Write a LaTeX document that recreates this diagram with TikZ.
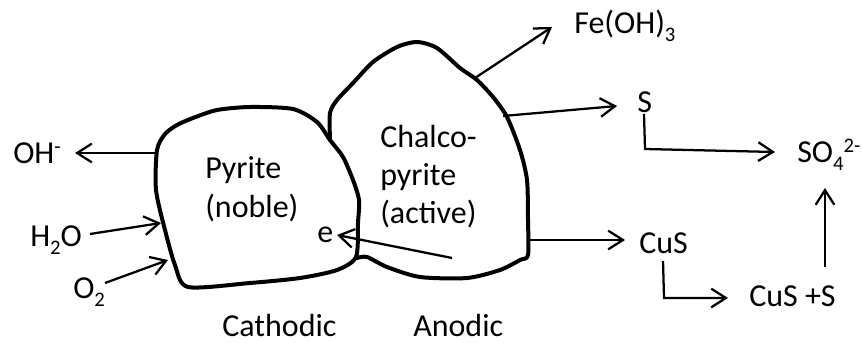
\documentclass[tikz,border=0pt]{standalone}
\usepackage{fontspec}
\setmainfont{Carlito}
\usetikzlibrary{arrows.meta}
\newcommand{\mysb}[1]{\raisebox{-6pt}{\fontsize{15.5}{15.5}\selectfont #1}}
\newcommand{\mysp}[1]{\raisebox{7pt}{\fontsize{15.5}{15.5}\selectfont #1}}
\begin{document}
\begin{tikzpicture}[x=0.75pt,y=-0.75pt,
  blob/.style={line width=3pt, line join=round, line cap=round},
  arr/.style={line width=1.7pt, -{Straight Barb[length=11pt,width=14pt,line width=1.7pt]}},
  lbl/.style={inner sep=0pt, anchor=base west, font=\fontsize{24}{28}\selectfont}]
\useasboundingbox (0,0) rectangle (862,342);
% pyrite
\draw[blob] plot[smooth cycle, tension=0.45] coordinates {
 (157,150) (165,134) (177,125) (193,118) (217,110) (250,107) (293,109)
 (317,122) (330,140) (343,157) (353,180) (359,200) (358,223) (356,257)
 (337,270) (300,278) (250,283) (188,287) (175,265) (165,230) (156,190)};
% chalcopyrite
\draw[blob] plot[smooth, tension=0.45] coordinates {
 (330,140) (330,113) (337,100) (353,83) (373,62) (397,47) (417,42)
 (437,48) (460,68) (477,80) (493,97) (507,117) (520,150) (527,180)
 (528,220) (528,255) (520,260) (500,270) (467,278) (420,277) (387,267)
 (367,257) (357,258)};
% labels
\node[lbl] (pyr1) at (205,178) {Pyrite};
\node[lbl] (pyr2) at (205,217) {(noble)};
\node[lbl] (cha1) at (380,147) {Chalco-};
\node[lbl] (cha2) at (380,185) {pyrite};
\node[lbl] (cha3) at (380,223) {(active)};
\node[lbl] (OH) at (13,163) {OH\mysp{-}};
\node[lbl] (H2O) at (30,246) {H\mysb{2}O};
\node[lbl] (O2) at (73,298) {O\mysb{2}};
\node[lbl] (e) at (317,242) {e};
\node[lbl] (FeOH) at (574,34) {Fe(OH)\mysb{3}};
\node[lbl] (S) at (637,113) {S};
\node[lbl] (SO4) at (797,162) {SO\mysb{4}\mysp{2-}};
\node[lbl] (CuS) at (639,253) {CuS};
\node[lbl] (CuSS) at (749,306) {CuS +S};
\node[lbl] (cat) at (222,336) {Cathodic};
\node[lbl] (ano) at (413,336) {Anodic};
% connector ends
\coordinate (OHa) at (157,153); \coordinate (OHb) at (75,153);
\coordinate (H2Oa) at (90,234); \coordinate (H2Ob) at (161,223);
\coordinate (O2a) at (105,283); \coordinate (O2b) at (168,260);
\coordinate (Ea) at (452,258); \coordinate (Eb) at (337,235);
\coordinate (Fea) at (475,78); \coordinate (Feb) at (552,27);
\coordinate (Sa) at (503,116); \coordinate (Sb) at (617,106);
\coordinate (S2a) at (644,114); \coordinate (S2c) at (645,149); \coordinate (S2b) at (775,152);
\coordinate (Cua) at (530,240); \coordinate (Cub) at (625,240);
\coordinate (Cu2a) at (663,261); \coordinate (Cu2c) at (664,298); \coordinate (Cu2b) at (728,298);
\coordinate (Upa) at (825,267); \coordinate (Upb) at (825,188);
% connectors
\draw[arr] (OHa) -- (OHb);
\draw[arr] (H2Oa) -- (H2Ob);
\draw[arr] (O2a) -- (O2b);
\draw[arr] (Ea) -- (Eb);
\draw[arr] (Fea) -- (Feb);
\draw[arr] (Sa) -- (Sb);
\draw[arr] (S2a) -- (S2c) -- (S2b);
\draw[arr] (Cua) -- (Cub);
\draw[arr] (Cu2a) -- (Cu2c) -- (Cu2b);
\draw[arr] (Upa) -- (Upb);
\end{tikzpicture}
\end{document}
